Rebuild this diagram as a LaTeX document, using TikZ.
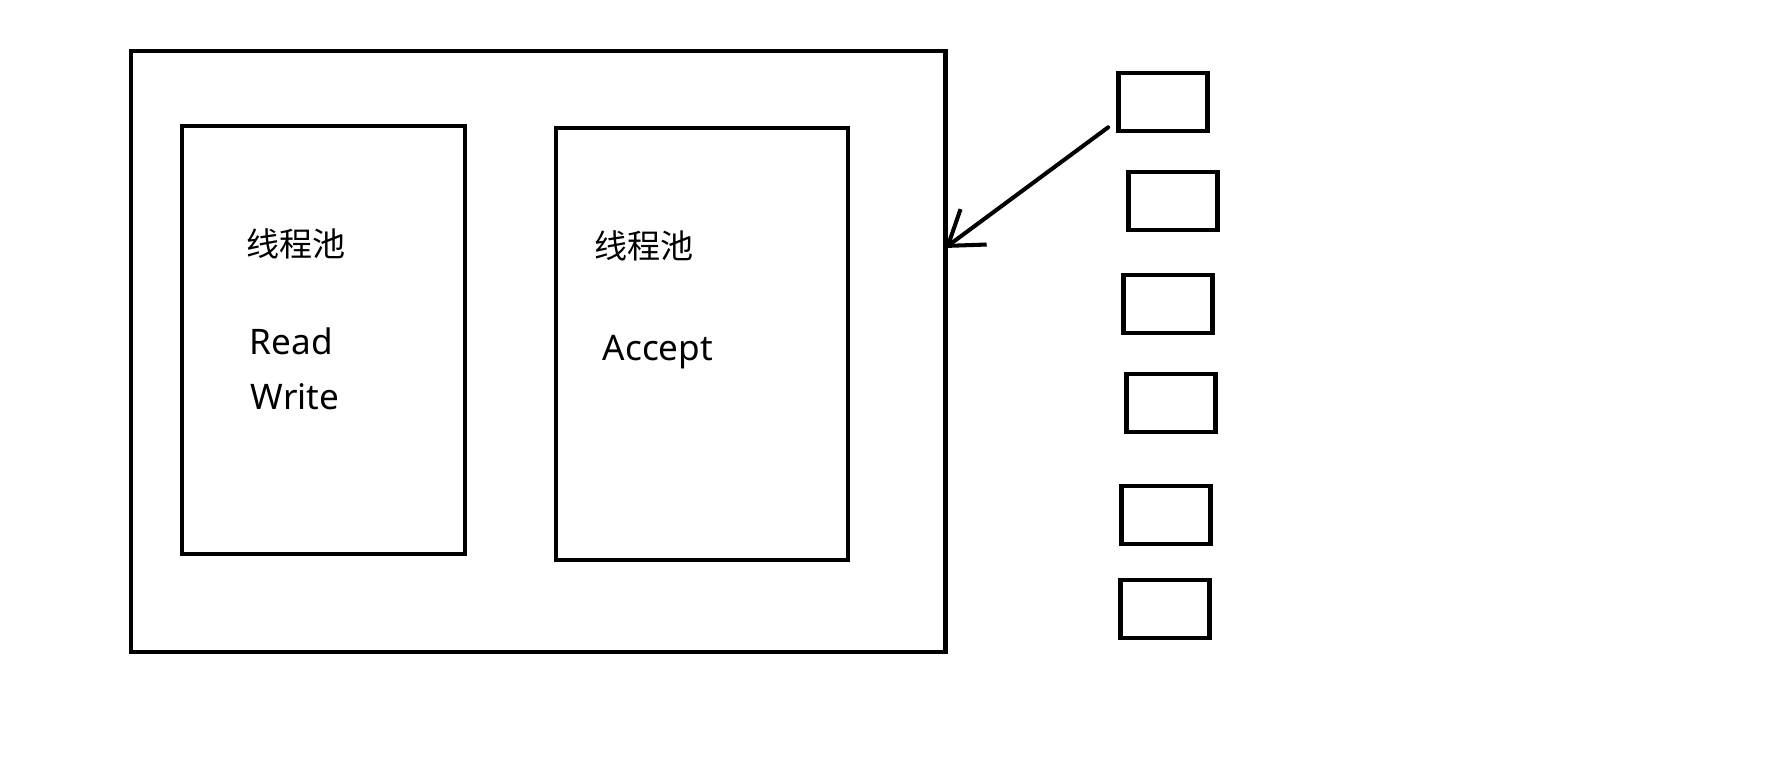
\documentclass[tikz,border=0pt]{standalone}
\usepackage{fontspec}
\setmainfont{Noto Sans}
\newfontfamily\cjk{Noto Sans CJK SC}
\usetikzlibrary{arrows.meta, positioning}

\begin{document}
\begin{tikzpicture}[x=0.01cm, y=-0.01cm, >={Straight Barb[length=0.32cm, width=0.44cm]}]
    % Styles
    \tikzstyle{frame} = [rectangle, draw, line width=1.15pt, inner sep=0pt, outer sep=0pt, anchor=north west]
    \tikzstyle{queuebox} = [rectangle, draw, line width=1.3pt, minimum width=0.89cm, minimum height=0.58cm, inner sep=0pt]
    \tikzstyle{poolname} = [anchor=base west, inner sep=0pt, font=\cjk\fontsize{9.4pt}{11pt}\selectfont]
    \tikzstyle{optext} = [anchor=base west, inner sep=0pt, font=\fontsize{10pt}{12pt}\selectfont]
    \tikzstyle{line} = [draw, line width=1.15pt, line cap=round, ->]

    \useasboundingbox (0,0) rectangle (1779,765);

    % Server and its two pools
    \node [frame, minimum width=8.14cm, minimum height=6.01cm] (server) at (131,51) {};
    \node [frame, minimum width=2.83cm, minimum height=4.28cm] (workpool) at (182,126) {};
    \node [frame, minimum width=2.92cm, minimum height=4.32cm] (acceptpool) at (556,128) {};

    % Texts
    \node [poolname] (worktitle) at (246,257) {线程池};
    \node [optext] (read) at (249,355) {Read};
    \node [optext] (write) at (250,410) {Write};
    \node [poolname] (accepttitle) at (594,259) {线程池};
    \node [optext] (accept) at (602,361) {Accept};

    % Incoming connections
    \foreach \i/\x/\y in {1/1163/102, 2/1173/201, 3/1168/304, 4/1171/403, 5/1166/515, 6/1165/609}
        \node [queuebox] (q\i) at (\x,\y) {};

    % Arrow
    \coordinate (hit) at (945,248);
    \path [line] ([xshift=-0.08cm, yshift=0.06cm]q1.south west) -- (hit);

\end{tikzpicture}
\end{document}
